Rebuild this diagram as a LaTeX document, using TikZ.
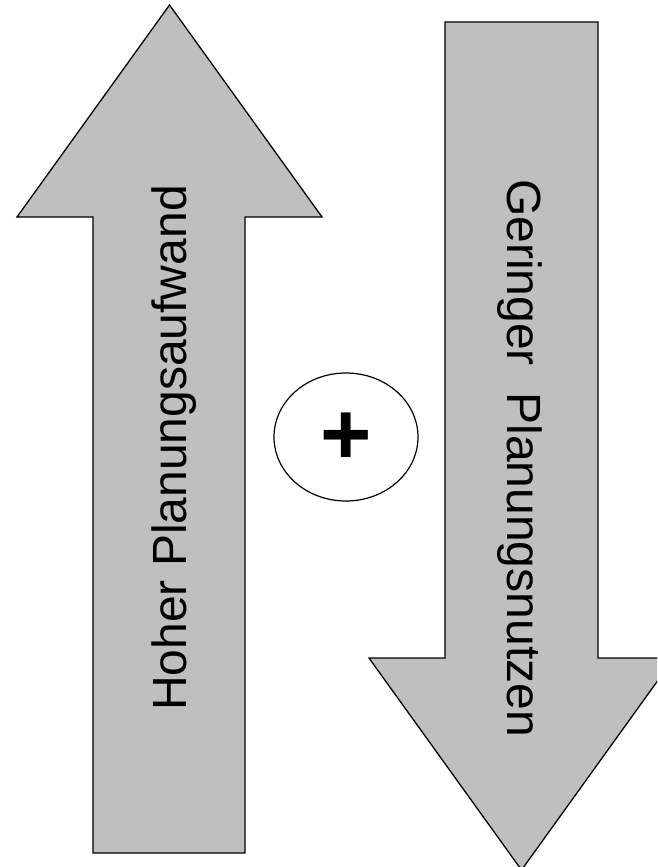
\documentclass[tikz,border=0pt]{standalone}
\usepackage{fontspec}
\usetikzlibrary{shapes.geometric}
\setmainfont{Liberation Sans}
\definecolor{arrowgray}{RGB}{191,191,191}
\begin{document}
\begin{tikzpicture}[x=1pt,y=-1pt,
  arrowbody/.style={draw=black,fill=arrowgray,line width=1.3pt,line join=miter},
  rottext/.style={font=\fontsize{48}{58}\selectfont,inner sep=0pt}]
\useasboundingbox (0,0) rectangle (657,867);
\clip (0,0) rectangle (657,867);
% left arrow (up)
\draw[arrowbody] (93,853) -- (93,217) -- (17,217) -- (169.5,5) -- (322,217) -- (245,217) -- (245,853) -- cycle;
% right arrow (down)
\draw[arrowbody] (445,22) -- (598,22) -- (598,658) -- (674,658) -- (521.5,870) -- (369,658) -- (445,658) -- cycle;
\node[rottext,rotate=90,anchor=base] (lefttext) at (186,448) {Hoher Planungsaufwand};
\node[rottext,rotate=-90,anchor=base] (righttext) at (507,458) {Geringer\ \ Planungsnutzen};
\node[draw=black,line width=1.2pt,ellipse,minimum width=144pt,minimum height=128pt,inner sep=0pt] (circ) at (346,437) {};
\node[font=\fontsize{88}{90}\selectfont\bfseries,inner sep=0pt] (plus) at (346,439) {+};
\end{tikzpicture}
\end{document}
